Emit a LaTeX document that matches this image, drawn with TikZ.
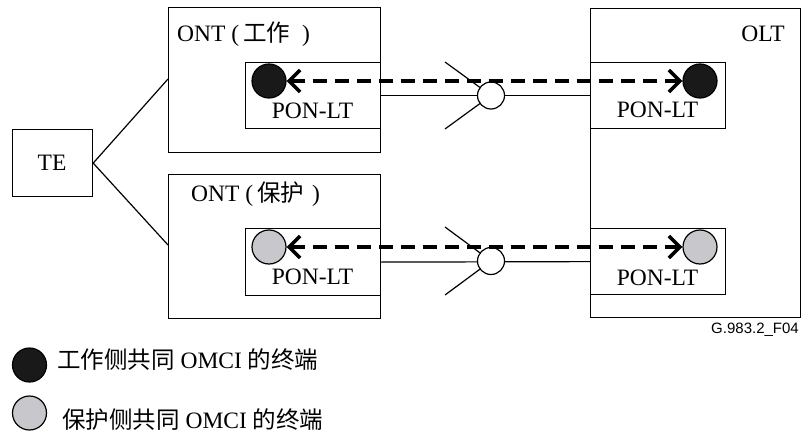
\documentclass[tikz,border=0pt]{standalone}
\usepackage{fontspec}
\setmainfont{Liberation Serif}
\newfontfamily\cjk{Noto Sans CJK SC}
\newfontfamily\figsans{Liberation Sans}
\usetikzlibrary{arrows.meta}

\definecolor{dotblack}{RGB}{25,25,25}
\definecolor{dotgray}{RGB}{200,200,204}

\begin{document}
\begin{tikzpicture}[x=1pt,y=-1pt,
  box/.style={draw, line width=1.2pt, inner sep=0pt, anchor=north west},
  lbl/.style={inner sep=0pt, font=\fontsize{23.5}{26}\selectfont},
  wire/.style={line width=1.2pt},
  dotw/.style={circle, draw, line width=1.2pt, fill=dotblack, minimum size=34pt, inner sep=0pt},
  dotp/.style={circle, draw, line width=1.2pt, fill=dotgray, minimum size=34pt, inner sep=0pt},
  splitter/.style={circle, draw, line width=1.2pt, fill=white, minimum size=27pt, inner sep=0pt},
  omci/.style={line width=3.5pt, dash pattern=on 14pt off 8pt,
    {Straight Barb[length=11pt,width=22pt]}-{Straight Barb[length=11pt,width=22pt]}}]
\useasboundingbox (0,0) rectangle (803,433);

% terminal equipment
\node[box, minimum width=80pt, minimum height=67pt] (te) at (12,129) {};
\node[lbl, anchor=base] (telbl) at (52,171) {TE};

% ONT boxes
\node[box, minimum width=212pt, minimum height=145pt] (ontw) at (168,7) {};
\node[box, minimum width=212pt, minimum height=144pt] (ontp) at (168,174) {};
\node[lbl, anchor=base west] (ontwlbl) at (177,42) {ONT (\,{\cjk 工作}\hspace{12pt})};
\node[lbl, anchor=base west] (ontplbl) at (191,201) {ONT (\,{\cjk 保护}\hspace{8pt})};

% OLT box
\node[box, minimum width=210pt, minimum height=309pt] (olt) at (590,8) {};
\node[lbl, anchor=base east] (oltlbl) at (785,42) {OLT};

% PON-LT boxes
\node[box, minimum width=135pt, minimum height=66pt] (ponw) at (245,62) {};
\node[box, minimum width=135pt, minimum height=67pt] (ponp) at (245,228) {};
\node[box, minimum width=135pt, minimum height=66pt] (poltw) at (590,62) {};
\node[box, minimum width=135pt, minimum height=66pt] (poltp) at (590,228) {};
\node[lbl, anchor=base] (ponwlbl) at (312.5,119) {PON-LT};
\node[lbl, anchor=base] (ponplbl) at (312.5,284) {PON-LT};
\node[lbl, anchor=base] (poltwlbl) at (657.5,118) {PON-LT};
\node[lbl, anchor=base] (poltplbl) at (657.5,285) {PON-LT};

% TE to both ONTs
\coordinate (tew) at (168,79);
\coordinate (tep) at (168,245);
\draw[wire] (te.east) -- (tew);
\draw[wire] (te.east) -- (tep);

% fibres through the splitters
\coordinate (sw) at (491,95.5);
\coordinate (sp) at (491,261);
\draw[wire] (ponw.east) -- (poltw.west);
\draw[wire] (ponp.east) -- (poltp.west);
\coordinate (swa) at (445,62);
\coordinate (swb) at (445,129);
\coordinate (spa) at (445,227);
\coordinate (spb) at (445,295);
\draw[wire] (swa) -- (sw);
\draw[wire] (swb) -- (sw);
\draw[wire] (spa) -- (sp);
\draw[wire] (spb) -- (sp);
\node[splitter] (splw) at (sw) {};
\node[splitter] (splp) at (sp) {};

% OMCI termination points
\node[dotw] (dw1) at (269,81) {};
\node[dotw] (dw2) at (700,81) {};
\node[dotp] (dp1) at (269,247) {};
\node[dotp] (dp2) at (700,247) {};
\draw[omci] (dw1) -- (dw2);
\draw[omci] (dp1) -- (dp2);

% figure tag
\node[inner sep=0pt, anchor=base east, font=\figsans\fontsize{15}{17}\selectfont] (tag) at (799,333) {G.983.2\_F04};

% legend
\node[dotw] (lgw) at (29.5,365) {};
\node[dotp] (lgp) at (29.5,413) {};
\node[lbl, anchor=base west, font=\fontsize{23.5}{26}\selectfont] (lgwlbl) at (57,368) {{\cjk 工作侧共同} OMCI {\cjk 的终端}};
\node[lbl, anchor=base west, font=\fontsize{23.5}{26}\selectfont] (lgplbl) at (62,428) {{\cjk 保护侧共同} OMCI {\cjk 的终端}};
\end{tikzpicture}
\end{document}
